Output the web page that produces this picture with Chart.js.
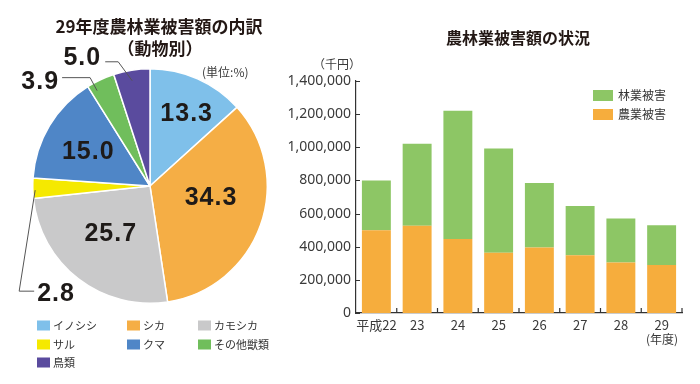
<!DOCTYPE html>
<html lang="ja">
<head>
<meta charset="utf-8">
<script src="https://cdn.jsdelivr.net/npm/chart.js@4"></script>
<style>
  body { margin: 0; background: #fff; }
  #wrap { position: relative; width: 700px; height: 384px; overflow: hidden; font-family: "Noto Sans CJK JP", "Noto Sans", sans-serif; color: #231815; }
  canvas { position: absolute; }
  .lbl { position: absolute; white-space: nowrap; line-height: 1; }
  .title { font-weight: 700; font-size: 17px; transform: translate(-50%, -50%); }
  .small { font-size: 12px; color: #3a3a3a; }
  .leg { position: absolute; font-size: 11px; color: #333; line-height: 1; white-space: nowrap; transform: translateY(-50%); }
  .leg i { display: inline-block; width: 13px; height: 10px; margin-right: 3px; vertical-align: -1px; }
</style>
</head>
<body>
<div id="wrap">
  <canvas id="pie" width="300" height="384" style="left:0;top:0"></canvas>
  <canvas id="bar" width="420" height="384" style="left:280px;top:0"></canvas>

  <div class="lbl title" style="left:159px;top:25px">29年度農林業被害額の内訳</div>
  <div class="lbl title" style="left:160px;top:47px">（動物別）</div>
  <div class="lbl small" style="left:202px;top:66px">(単位:%)</div>

  <div class="lbl title" style="left:518px;top:37px;font-size:16px">農林業被害額の状況</div>
  <div class="lbl small" style="left:313px;top:58px">（千円）</div>
  <div class="lbl small" style="left:646px;top:333px;font-size:12px">(年度)</div>
  <div id="pieLegend"></div>
  <div id="barLegend"></div>
</div>
<script>
// 動物別の内訳（%）
const animals = ['イノシシ', 'シカ', 'カモシカ', 'サル', 'クマ', 'その他獣類', '鳥類'];
const shares = [13.3, 34.3, 25.7, 2.8, 15.0, 3.9, 5.0];
const animalColors = ['#7fc0ea', '#f5ae45', '#c9c9ca', '#f5e900', '#4f86c7', '#70be5c', '#5a4b9e'];

// 年度別の被害額（千円）
const years = ['平成22', '23', '24', '25', '26', '27', '28', '29'];
const agriDamage = [500000, 527000, 447000, 364000, 396000, 348000, 304000, 290000];
const forestDamage = [300000, 495000, 773000, 628000, 389000, 298000, 267000, 239000];
const yTicks = [0, 200000, 400000, 600000, 800000, 1000000, 1200000, 1400000];

const agriColor = '#f6ad3d';
const forestColor = '#8dc665';

// ラベルの配置（中：半径の割合と角度補正、外：引き出し線）
const pieLabelStyle = [
  { r: 0.69, da: 3 },
  { r: 0.53, da: -8.7 },
  { r: 0.53, da: 1.6 },
  { r: 0.98, da: -1, lead: [[-16, 101], [-1, 101]], tx: 3, ty: 3, align: 'left' },
  { r: 0.60, da: -2.3 },
  { r: 0.93, da: -4, lead: [[-7, -13], [-35, -13]], tx: -3, ty: 4, align: 'right' },
  { r: 0.91, da: -0.6, lead: [[-14, -19], [-27, -19]], tx: -4, ty: -4, align: 'right' }
];

const pieLabels = {
  id: 'pieLabels',
  afterDatasetsDraw(chart) {
    const ctx = chart.ctx;
    const meta = chart.getDatasetMeta(0);
    ctx.save();
    ctx.font = 'bold 25px "Liberation Sans", Arial, sans-serif';
    if ('letterSpacing' in ctx) ctx.letterSpacing = '1px';
    ctx.textBaseline = 'middle';
    meta.data.forEach((arc, i) => {
      const p = arc.getProps(['x', 'y', 'startAngle', 'endAngle', 'outerRadius'], true);
      const st = pieLabelStyle[i];
      const ang = (p.startAngle + p.endAngle) / 2 + st.da * Math.PI / 180;
      const ax = p.x + Math.cos(ang) * p.outerRadius * st.r;
      const ay = p.y + Math.sin(ang) * p.outerRadius * st.r;
      const txt = shares[i].toFixed(1);
      ctx.fillStyle = '#1e1a18';
      if (!st.lead) {
        ctx.textAlign = 'center';
        ctx.fillText(txt, ax, ay);
        return;
      }
      ctx.strokeStyle = '#555';
      ctx.lineWidth = 1;
      ctx.beginPath();
      ctx.moveTo(ax, ay);
      st.lead.forEach(pt => ctx.lineTo(ax + pt[0], ay + pt[1]));
      ctx.stroke();
      const end = st.lead[st.lead.length - 1];
      ctx.textAlign = st.align;
      ctx.fillText(txt, ax + end[0] + st.tx, ay + end[1] + st.ty);
    });
    ctx.restore();
  }
};

new Chart(document.getElementById('pie'), {
  type: 'pie',
  data: {
    labels: animals,
    datasets: [{
      data: shares,
      backgroundColor: animalColors,
      borderColor: '#ffffff',
      borderWidth: 1.5
    }]
  },
  options: {
    responsive: false,
    animation: false,
    layout: { padding: { left: 32, right: 32, top: 68, bottom: 80 } },
    plugins: { legend: { display: false }, tooltip: { enabled: false } }
  },
  plugins: [pieLabels]
});

// 円グラフの凡例
const legCols = [37, 127, 198];
const legRows = [325, 344, 362];
document.getElementById('pieLegend').innerHTML = animals.map((a, i) =>
  `<div class="leg" style="left:${legCols[i % 3]}px;top:${legRows[Math.floor(i / 3)]}px"><i style="background:${animalColors[i]}"></i>${a}</div>`
).join('');

// 棒グラフの凡例
document.getElementById('barLegend').innerHTML = [
  ['林業被害', forestColor, 95],
  ['農業被害', agriColor, 114]
].map(([t, c, y]) =>
  `<div class="leg" style="left:593px;top:${y}px;font-size:12px"><i style="background:${c};width:20px;height:11px;margin-right:5px"></i>${t}</div>`
).join('');

// 内向きの目盛り線
const innerTicks = {
  id: 'innerTicks',
  afterDraw(chart) {
    const ctx = chart.ctx;
    const x = chart.scales.x, y = chart.scales.y;
    ctx.save();
    ctx.strokeStyle = '#333';
    ctx.lineWidth = 1.2;
    ctx.beginPath();
    y.ticks.forEach((t, i) => {
      const py = Math.round(y.getPixelForTick(i)) + 0.5;
      ctx.moveTo(x.left, py);
      ctx.lineTo(x.left + 4, py);
    });
    for (let i = 0; i < years.length; i++) {
      const px = x.getPixelForValue(i + 0.5);
      ctx.moveTo(px, y.bottom);
      ctx.lineTo(px, y.bottom - 5);
    }
    ctx.stroke();
    ctx.restore();
  }
};

const tickFont = { family: '"Noto Sans CJK JP", "Noto Sans", sans-serif', size: 13 };

new Chart(document.getElementById('bar'), {
  type: 'bar',
  data: {
    labels: years,
    datasets: [
      { label: '農業被害', data: agriDamage, backgroundColor: agriColor, barPercentage: 0.71, categoryPercentage: 1 },
      { label: '林業被害', data: forestDamage, backgroundColor: forestColor, barPercentage: 0.71, categoryPercentage: 1 }
    ]
  },
  options: {
    responsive: false,
    animation: false,
    layout: { padding: { left: 0, right: 18, top: 81, bottom: 41 } },
    plugins: { legend: { display: false }, tooltip: { enabled: false } },
    scales: {
      x: {
        stacked: true,
        grid: { display: false, drawTicks: false },
        border: { display: true, color: '#333', width: 1.2 },
        ticks: { font: tickFont, color: '#3a3a3a', padding: 4, maxRotation: 0, autoSkip: false },
        afterFit: s => { s.height = 30; }
      },
      y: {
        stacked: true,
        min: 0,
        max: yTicks[yTicks.length - 1],
        grid: { display: false, drawTicks: false },
        border: { display: true, color: '#333', width: 1.2 },
        afterBuildTicks: s => { s.ticks = yTicks.map(v => ({ value: v })); },
        ticks: {
          font: { family: '"Noto Sans", sans-serif', size: 14 },
          color: '#3a3a3a',
          padding: 5,
          callback: v => v.toLocaleString('en-US')
        },
        afterFit: s => { s.width = 76; }
      }
    }
  },
  plugins: [innerTicks]
});
</script>
</body>
</html>
